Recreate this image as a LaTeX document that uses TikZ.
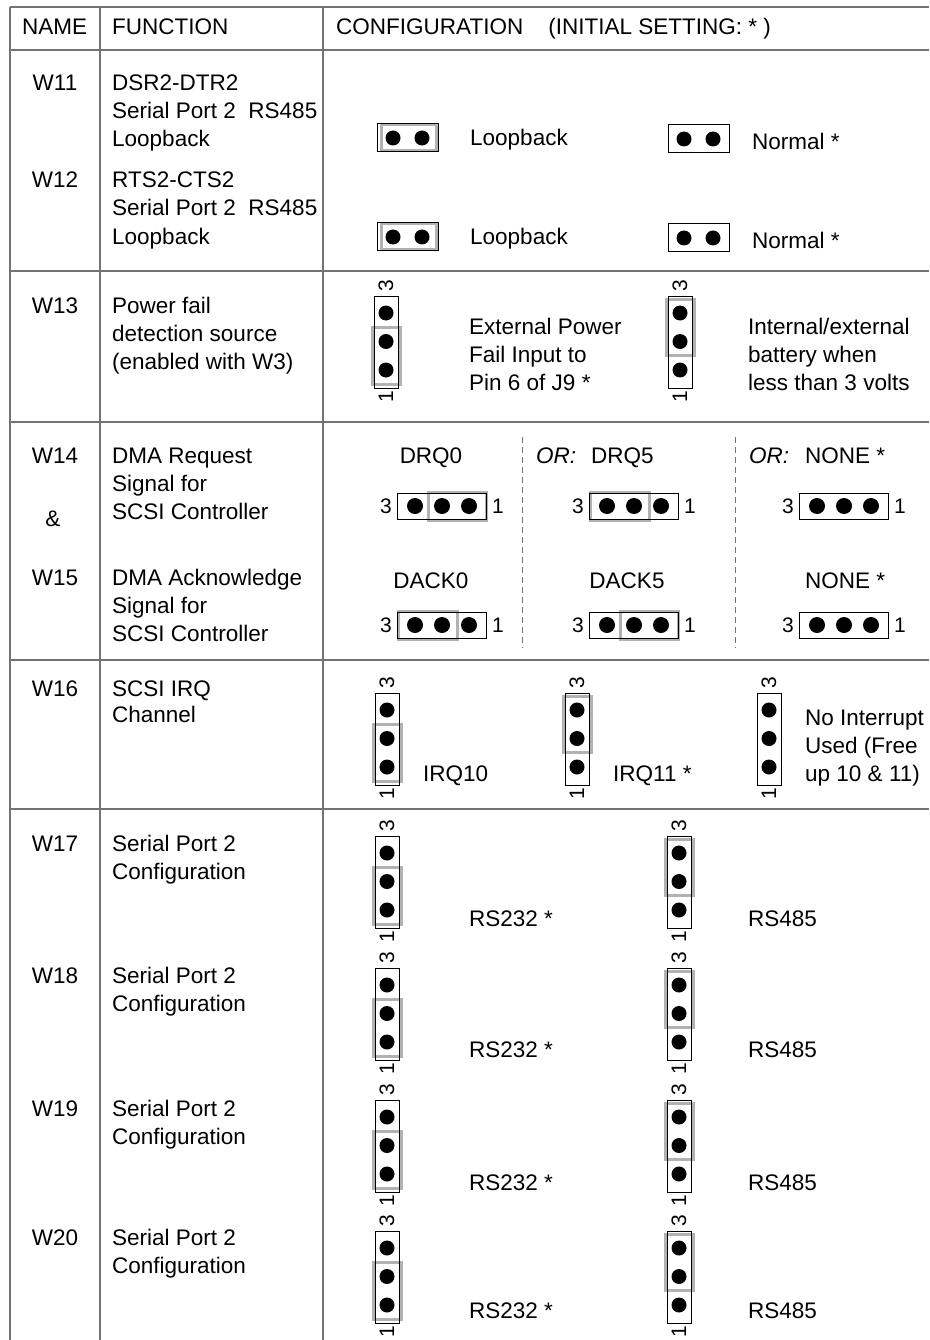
\documentclass[tikz,border=0pt]{standalone}
\usepackage{fontspec}
\setmainfont{Liberation Sans}
\definecolor{rule}{gray}{0.45}
\definecolor{jmp}{gray}{0.7}

% vertical 3-pin jumper: x, y of pin 3, cap (0 none, 1 upper pair, 2 lower pair), name
\newcommand{\vjumper}[4]{%
  \ifcase#3\or
    \draw[jcap] ({#1-14},{#2-14}) rectangle ({#1+14},{#2+42.5});
  \or
    \draw[jcap] ({#1-14},{#2+14.5}) rectangle ({#1+14},{#2+71});
  \fi
  \draw[jbox] ({#1-12},{#2-17}) rectangle ({#1+12},{#2+75});
  \foreach \k in {0,1,2} \fill ({#1},{#2+28.5*\k}) circle (7.5pt);
  \node[pinnum,rotate=90] (#4-3) at ({#1},{#2-27}) {3};
  \node[pinnum,rotate=90] (#4-1) at ({#1},{#2+84}) {1};
}
% horizontal 3-pin jumper: x of pin 3, y, cap (0 none, 1 left pair, 2 right pair), name
\newcommand{\hjumper}[4]{%
  \ifcase#3\or
    \draw[jcap] ({#1-17},{#2-14}) rectangle ({#1+42},{#2+14});
  \or
    \draw[jcap] ({#1+13},{#2-14}) rectangle ({#1+71},{#2+14});
  \fi
  \draw[jbox] ({#1-18},{#2-13}) rectangle ({#1+71},{#2+13});
  \foreach \k in {0,1,2} \fill ({#1+27*\k},{#2}) circle (8pt);
  \node[pinnum] (#4-3) at ({#1-29},{#2}) {3};
  \node[pinnum] (#4-1) at ({#1+83},{#2}) {1};
}
% 2-pin jumper: x of left pin, y, cap (0/1)
\newcommand{\twojumper}[3]{%
  \ifnum#3=1 \draw[jcap] ({#1-12},{#2-13}) rectangle ({#1+43},{#2+13}); \fi
  \draw[jbox] ({#1-16},{#2-14}) rectangle ({#1+45},{#2+14});
  \fill (#1,#2) circle (7.5pt);
  \fill ({#1+29},{#2}) circle (7.5pt);
}

\begin{document}
\begin{tikzpicture}
  [x=1pt,y=-1pt,
   txt/.style={inner sep=0pt,anchor=base west,font=\fontsize{22.5}{28}\selectfont},
   ctxt/.style={inner sep=0pt,anchor=base,font=\fontsize{22.5}{28}\selectfont},
   pinnum/.style={inner sep=0pt,font=\fontsize{21}{21}\selectfont},
   tabline/.style={rule,line width=1.5pt},
   jbox/.style={black,line width=1pt},
   jcap/.style={jmp,line width=3pt}]
    \useasboundingbox (0,0) rectangle (929,1340);

    % table
    \draw[tabline] (10,7) -- (929,7);
    \foreach \y in {50,271,422,660,809}
      \draw[tabline] (10,\y) -- (929,\y);
    \foreach \x in {10,100,323}
      \draw[tabline] (\x,7) -- (\x,1340);

    \node[txt] (hname) at (22,35)  {NAME};
    \node[txt] (hfunc) at (112,35) {FUNCTION};
    \node[txt] (hconf) at (336,35) {CONFIGURATION\hspace{25pt}(INITIAL SETTING: * )};

    \foreach \n/\y in {W11/91,W12/188,W13/313,W14/463,W15/585,W16/696,W17/851,W18/983,W19/1116,W20/1245}
      \node[ctxt] (\n) at (55,\y) {\n};
    \node[ctxt] (amp) at (53,526) {\&};

    % functions
    \node[txt] (f11a) at (112,91)  {DSR2-DTR2};
    \node[txt] (f11b) at (112,119) {Serial Port 2\ \ RS485};
    \node[txt] (f11c) at (112,147) {Loopback};
    \node[txt] (f12a) at (112,188) {RTS2-CTS2};
    \node[txt] (f12b) at (112,216) {Serial Port 2\ \ RS485};
    \node[txt] (f12c) at (112,244) {Loopback};
    \node[txt] (f13a) at (112,313) {Power fail};
    \node[txt] (f13b) at (112,341) {detection source};
    \node[txt] (f13c) at (112,369) {(enabled with W3)};
    \node[txt] (f14a) at (112,463) {DMA Request};
    \node[txt] (f14b) at (112,491) {Signal for};
    \node[txt] (f14c) at (112,519) {SCSI Controller};
    \node[txt] (f15a) at (112,585) {DMA Acknowledge};
    \node[txt] (f15b) at (112,613) {Signal for};
    \node[txt] (f15c) at (112,641) {SCSI Controller};
    \node[txt] (f16a) at (112,696) {SCSI IRQ};
    \node[txt] (f16b) at (112,722) {Channel};
    \foreach \n/\y in {17/851,18/983,19/1116,20/1245} {
      \node[txt] (f\n a) at (112,\y) {Serial Port 2};
      \node[txt] (f\n b) at (112,\y+28) {Configuration};
    }

    % W11, W12
    \twojumper{393}{138}{1}
    \twojumper{684}{139}{0}
    \twojumper{393}{237}{1}
    \twojumper{684}{238}{0}
    \node[txt] (loop11) at (470,146) {Loopback};
    \node[txt] (norm11) at (752,150) {Normal *};
    \node[txt] (loop12) at (470,244) {Loopback};
    \node[txt] (norm12) at (752,248) {Normal *};

    % W13
    \vjumper{386}{313}{2}{j13a}
    \vjumper{680}{313}{1}{j13b}
    \node[txt] (ext1) at (469,334) {External Power};
    \node[txt] (ext2) at (469,362) {Fail Input to};
    \node[txt] (ext3) at (469,390) {Pin 6 of J9 *};
    \node[txt] (int1) at (748,334) {Internal/external};
    \node[txt] (int2) at (748,362) {battery when};
    \node[txt] (int3) at (748,390) {less than 3 volts};

    % W14, W15
    \draw[rule,line width=0.8pt,dash pattern=on 6pt off 4pt] (522,437) -- (522,648);
    \draw[rule,line width=0.8pt,dash pattern=on 6pt off 4pt] (735,437) -- (735,648);
    \node[ctxt] (drq0)  at (431,463) {DRQ0};
    \node[txt]  (or1)   at (536,463) {\itshape OR:};
    \node[txt]  (drq5)  at (591,463) {DRQ5};
    \node[txt]  (or2)   at (749,463) {\itshape OR:};
    \node[txt]  (none1) at (805,463) {NONE *};
    \hjumper{415}{506}{2}{j14a}
    \hjumper{607}{506}{1}{j14b}
    \hjumper{817}{506}{0}{j14c}
    \node[ctxt] (dack0) at (431,588) {DACK0};
    \node[ctxt] (dack5) at (627,588) {DACK5};
    \node[txt]  (none2) at (805,588) {NONE *};
    \hjumper{415}{625}{1}{j15a}
    \hjumper{607}{625}{2}{j15b}
    \hjumper{817}{625}{0}{j15c}

    % W16
    \vjumper{387}{710}{2}{j16a}
    \vjumper{577}{710}{1}{j16b}
    \vjumper{769}{710}{0}{j16c}
    \node[txt] (irq10) at (423,781) {IRQ10};
    \node[txt] (irq11) at (613,781) {IRQ11 *};
    \node[txt] (noint1) at (805,725) {No Interrupt};
    \node[txt] (noint2) at (805,753) {Used (Free};
    \node[txt] (noint3) at (805,781) {up 10 \& 11)};

    % W17 - W20
    \foreach \n/\p/\b in {17/853/926,18/985/1057,19/1117/1190,20/1248/1318} {
      \vjumper{387}{\p}{2}{j\n a}
      \vjumper{679}{\p}{1}{j\n b}
      \node[txt] (rs232-\n) at (469,\b) {RS232 *};
      \node[txt] (rs485-\n) at (748,\b) {RS485};
    }
\end{tikzpicture}
\end{document}
